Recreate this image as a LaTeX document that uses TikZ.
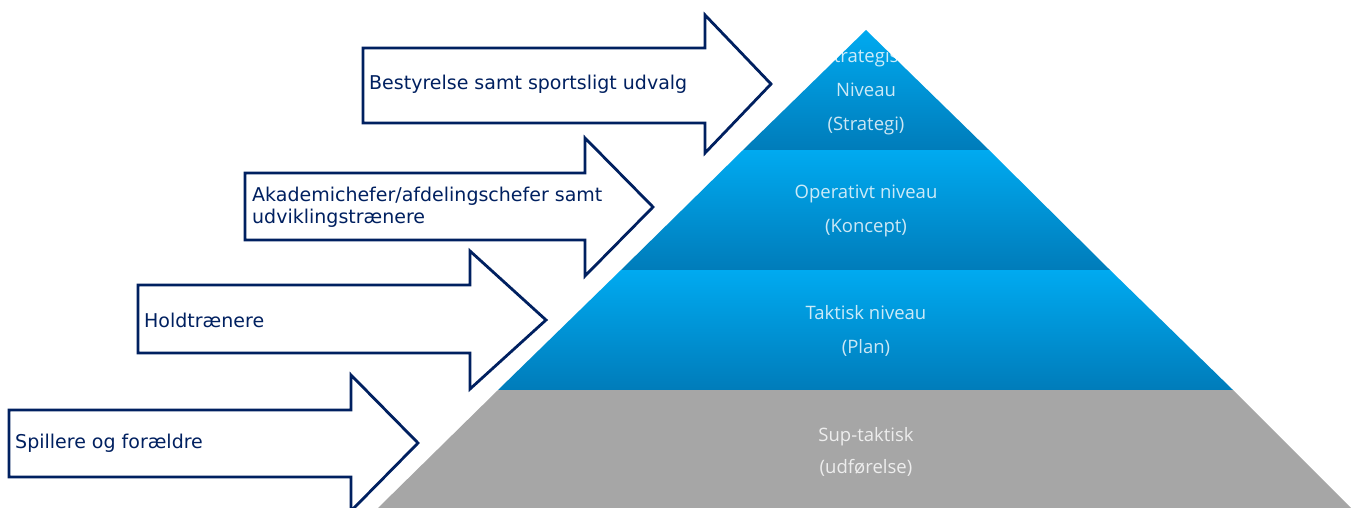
\documentclass[tikz,border=0pt]{standalone}
\usepackage{fontspec}
\setmainfont{DejaVu Sans}
\newfontfamily\levelfont{Open Sans}
\definecolor{navy}{RGB}{0,32,96}
\definecolor{tierlight}{RGB}{0,170,240}
\definecolor{tierdark}{RGB}{0,124,186}
\definecolor{basegray}{RGB}{166,166,166}

\begin{document}
\begin{tikzpicture}
  [x=1pt,y=-1pt,
   tier/.style={top color=tierlight,bottom color=tierdark},
   level text/.style={font=\levelfont\fontsize{18.5}{34}\selectfont,text=white,text opacity=0.8,align=center},
   push arrow/.style={draw=navy,line width=2.8pt,fill=white,line join=miter},
   arrow text/.style={font=\fontsize{19}{22}\selectfont,text=navy,anchor=west,align=left,inner sep=0pt}]
  \useasboundingbox (0,0) rectangle (1351,508);

  % pyramid
  \shade[tier] (866,30) -- (989,150) -- (743,150) -- cycle;
  \shade[tier] (743,150) -- (989,150) -- (1110,270) -- (621,270) -- cycle;
  \shade[tier] (621,270) -- (1110,270) -- (1233,390) -- (498,390) -- cycle;
  \fill[basegray] (498,390) -- (1233,390) -- (1351,508) -- (378,508) -- cycle;

  \node[level text] (strategisk) at (866,92) {Strategisk\\Niveau\\(Strategi)};
  \node[level text] (operativt) at (866,211) {Operativt niveau\\(Koncept)};
  \node[level text] (taktisk) at (866,331) {Taktisk niveau\\(Plan)};
  \node[level text,font=\levelfont\fontsize{18.5}{32}\selectfont] (suptaktisk) at (866,452) {Sup-taktisk\\(udførelse)};

  % arrows
  \draw[push arrow] (363,48) -- (705,48) -- (705,15) -- (771,84) -- (705,153) -- (705,123) -- (363,123) -- cycle;
  \draw[push arrow] (245,173) -- (585,173) -- (585,138) -- (653,207) -- (585,276) -- (585,240) -- (245,240) -- cycle;
  \draw[push arrow] (138,285) -- (470,285) -- (470,251) -- (546,320) -- (470,389) -- (470,353) -- (138,353) -- cycle;
  \draw[push arrow] (9,410) -- (351,410) -- (351,375) -- (418,443) -- (351,511) -- (351,477) -- (9,477) -- cycle;

  \node[arrow text] (bestyrelse) at (369,84) {Bestyrelse samt sportsligt udvalg};
  \node[arrow text] (akademi) at (252,207) {Akademichefer/afdelingschefer samt\\udviklingstrænere};
  \node[arrow text] (hold) at (144,320) {Holdtrænere};
  \node[arrow text] (spillere) at (15,443) {Spillere og forældre};

\end{tikzpicture}
\end{document}
